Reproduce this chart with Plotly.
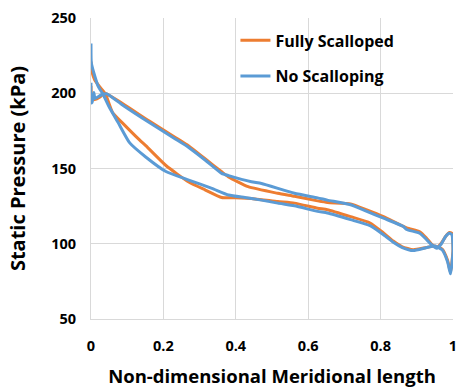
import plotly.graph_objects as go

# Fully Scalloped: closed loop (suction side from LE tip to TE, then pressure side back to LE)
fs_x = [0.000, 0.003, 0.010, 0.025, 0.040, 0.060, 0.088, 0.134, 0.152, 0.207, 0.270, 0.316,
        0.361, 0.398, 0.453, 0.516, 0.562, 0.626, 0.653, 0.717, 0.771, 0.808, 0.835, 0.860,
        0.890, 0.926, 0.950, 0.970, 0.985, 0.993, 1.000, 0.997, 0.990, 0.980, 0.968, 0.955,
        0.940, 0.926, 0.908, 0.872, 0.808, 0.762, 0.717, 0.653, 0.626, 0.562, 0.516, 0.434,
        0.380, 0.361, 0.316, 0.270, 0.234, 0.161, 0.088, 0.038, 0.025, 0.010, 0.003, 0.000]
fs_y = [221.0, 214.0, 209.0, 204.0, 199.5, 187.0, 180.0, 169.0, 165.0, 152.0, 141.0, 135.7,
        130.7, 130.5, 129.8, 128.0, 127.0, 123.6, 122.6, 118.0, 113.8, 107.2, 101.8, 98.0,
        96.0, 97.5, 98.5, 96.5, 89.0, 81.0, 96.0, 107.0, 107.5, 105.0, 100.5, 97.5,
        100.0, 104.0, 108.0, 110.5, 118.0, 122.5, 126.5, 127.4, 128.5, 131.5, 133.5, 137.9,
        144.4, 147.8, 156.3, 165.0, 170.5, 181.5, 193.0, 200.0, 197.5, 195.8, 196.0, 205.0]

# No Scalloping: closed loop
ns_x = [0.000, 0.001, 0.011, 0.020, 0.034, 0.050, 0.075, 0.107, 0.152, 0.207, 0.270, 0.334,
        0.380, 0.425, 0.471, 0.516, 0.562, 0.626, 0.653, 0.717, 0.771, 0.808, 0.835, 0.860,
        0.890, 0.926, 0.950, 0.970, 0.985, 0.993, 1.000, 0.997, 0.990, 0.980, 0.968, 0.955,
        0.940, 0.926, 0.908, 0.872, 0.862, 0.808, 0.762, 0.717, 0.653, 0.626, 0.562, 0.471,
        0.443, 0.380, 0.361, 0.316, 0.270, 0.234, 0.161, 0.088, 0.043, 0.029, 0.011,
        0.008, 0.003, 0.000, 0.000]
ns_y = [233.0, 220.0, 211.0, 204.5, 199.0, 191.0, 180.5, 167.0, 157.5, 148.0, 142.3, 136.8,
        132.4, 130.7, 129.0, 127.0, 125.2, 121.5, 120.4, 116.0, 112.0, 106.0, 101.0, 97.5,
        95.5, 97.4, 98.5, 96.0, 88.0, 80.0, 95.0, 106.0, 107.0, 105.0, 100.0, 97.0,
        99.5, 103.0, 107.0, 109.5, 111.6, 117.0, 121.5, 125.9, 129.0, 130.5, 133.5, 140.0,
        141.2, 145.3, 146.8, 155.5, 164.0, 169.5, 180.5, 192.0, 199.7, 199.0, 196.5,
        200.5, 194.0, 193.6, 207.0]

series_names = ["Fully Scalloped", "No Scalloping"]
series_colors = ["#ED7D31", "#5B9BD5"]

x_ticks = [0, 0.2, 0.4, 0.6, 0.8, 1]
x_tick_labels = ["0", "0.2", "0.4", "0.6", "0.8", "1"]
y_ticks = [50, 100, 150, 200, 250]

FONT = "Open Sans"

fig = go.Figure()
for i, (xs, ys) in enumerate([(fs_x, fs_y), (ns_x, ns_y)]):
    fig.add_trace(go.Scatter(
        x=xs, y=ys, mode="lines", name=series_names[i],
        line=dict(color=series_colors[i], width=3, shape="spline", smoothing=0.5),
        legendgroup=f"g{i}",
    ))

fig.update_layout(
    width=465, height=391,
    margin=dict(l=91, r=8, t=14, b=72),
    paper_bgcolor="white", plot_bgcolor="white",
    font=dict(family=FONT, color="black"),
    showlegend=True,
    legend=dict(
        x=0.399, y=0.982, xanchor="left", yanchor="top",
        font=dict(family=FONT, size=16, color="black", weight="bold"),
        bgcolor="rgba(0,0,0,0)", traceorder="grouped", tracegroupgap=12,
    ),
)
fig.update_xaxes(
    range=[0, 1], tickvals=x_ticks, ticktext=x_tick_labels,
    showgrid=True, gridcolor="#D9D9D9", gridwidth=1,
    showline=True, linecolor="#D9D9D9", linewidth=1, zeroline=False,
    ticks="", ticklabelstandoff=14,
    tickfont=dict(family=FONT, size=14.5, color="black", weight="bold"),
    title=dict(text="Non-dimensional Meridional length",
               font=dict(family=FONT, size=18.5, color="black", weight="bold"), standoff=15),
)
fig.update_yaxes(
    range=[50, 250], tickvals=y_ticks,
    showgrid=True, gridcolor="#D9D9D9", gridwidth=1,
    showline=True, linecolor="#D9D9D9", linewidth=1, zeroline=False,
    ticks="", ticklabelstandoff=11,
    tickfont=dict(family=FONT, size=14.5, color="black", weight="bold"),
    title=dict(text="Static Pressure (kPa)",
               font=dict(family=FONT, size=20, color="black", weight="bold"), standoff=20),
)

fig.write_html("out.html")
